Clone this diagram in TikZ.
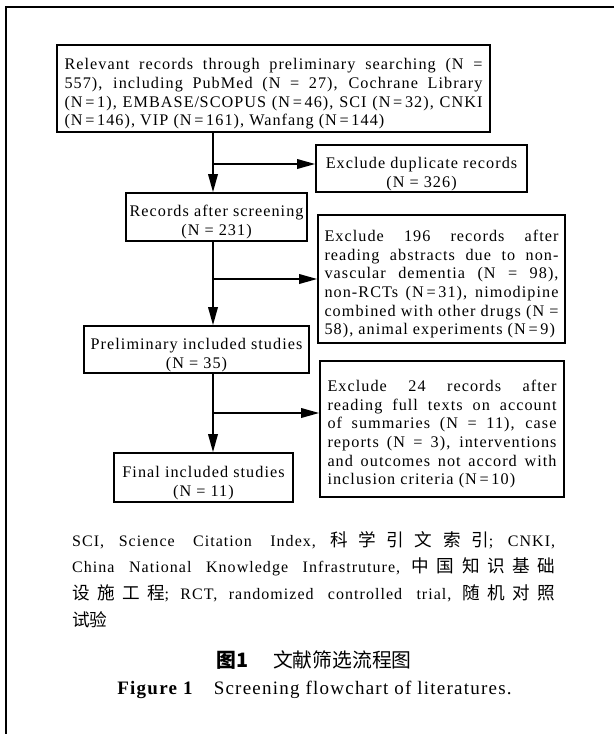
\documentclass[tikz,border=0pt]{standalone}
\usepackage{fontspec}
\setmainfont[LetterSpace=6.5]{Liberation Serif}
\newfontfamily\cjk[Scale=1.1]{Noto Sans CJK SC}
\XeTeXlinebreaklocale "zh"
\XeTeXlinebreakskip=0pt plus 2pt
\usetikzlibrary{arrows.meta}
\newcommand{\topgap}{\rule{0pt}{22pt}}
\newcommand{\pgap}{\hspace{4pt plus 2pt}}

\begin{document}
\begin{tikzpicture}[x=1pt, y=-1pt,
    box/.style={draw, line width=1.6pt, align=center, inner sep=0pt,
        font=\fontsize{16.2}{18.6}\selectfont},
    arr/.style={line width=1.8pt, -{Triangle[length=18pt, width=9.5pt]}}]
    \useasboundingbox (0,0) rectangle (614,734);
    \draw [line width=2.4pt] (614,7) -- (6,7) -- (6,734);

    \coordinate (axis) at (213,0);

    \node [box, minimum width=433pt, minimum height=87pt, text width=418pt, align=justify] (search) at (273.5,88.5)
        {\topgap Relevant records through preliminary searching (N =\linebreak 557), including PubMed (N = 27), Cochrane Library\linebreak (N\,=\,1), EMBASE/SCOPUS (N\,=\,46), SCI (N\,=\,32), CNKI\linebreak (N\,=\,146), VIP (N\,=\,161), Wanfang (N\,=\,144)};
    \node [box, minimum width=211pt, minimum height=47pt] (dup) at (421.5,168.5)
        {\topgap Exclude duplicate records\\(N = 326)};
    \node [box, minimum width=181pt, minimum height=48pt] (screen) at (216.5,217)
        {\topgap Records after screening\\(N = 231)};
    \node [box, minimum width=247pt, minimum height=128pt, text width=234pt, align=justify] (abstr) at (441.5,279)
        {\topgap Exclude 196 records after\linebreak reading abstracts due to non-\linebreak vascular dementia (N = 98),\linebreak non-RCTs (N\,=\,31), nimodipine\linebreak combined with other drugs (N =\linebreak 58), animal experiments (N\,=\,9)};
    \node [box, minimum width=225pt, minimum height=47pt] (prelim) at (196.5,349.5)
        {\topgap Preliminary included studies\\(N = 35)};
    \node [box, minimum width=244pt, minimum height=136pt, text width=229pt, align=justify] (fulltext) at (442,429)
        {\topgap Exclude 24 records after\linebreak reading full texts on account\linebreak of summaries (N = 11), case\linebreak reports (N = 3), interventions\linebreak and outcomes not accord with\linebreak inclusion criteria (N\,=\,10)};
    \node [box, minimum width=179pt, minimum height=49pt] (final) at (203.5,477.5)
        {\topgap Final included studies\\(N = 11)};

    \draw [arr] (search.south -| axis) -- (screen.north -| axis);
    \draw [arr] ([yshift=4.5pt]dup.west -| axis) -- ([yshift=4.5pt]dup.west);
    \draw [arr] (screen.south -| axis) -- (prelim.north -| axis);
    \draw [arr] (abstr.west -| axis) -- (abstr.west);
    \draw [arr] (prelim.south -| axis) -- (final.north -| axis);
    \draw [arr] ([yshift=16pt]fulltext.west -| axis) -- ([yshift=16pt]fulltext.west);

    \node [anchor=north west, inner sep=0pt, text width=483pt, align=justify,
        font=\fontsize{16}{26.7}\selectfont] (note) at (72,531)
        {SCI,\pgap Science Citation Index,\pgap{\cjk 科学引文索引};\pgap CNKI,\linebreak China National Knowledge Infrastruture,\pgap{\cjk 中国知识基础}\linebreak {\cjk 设施工程};\pgap RCT,\pgap randomized controlled trial,\pgap{\cjk 随机对照}\linebreak {\cjk 试验}};
    \node [font=\fontsize{18}{20}\selectfont] (figcn) at (314,660)
        {{\cjk\bfseries 图1}\hspace{25pt}{\cjk 文献筛选流程图}};
    \node [font=\fontsize{19}{21}\selectfont] (figen) at (314.5,690)
        {\textbf{Figure 1}\hspace{20pt}Screening flowchart of literatures.};
\end{tikzpicture}
\end{document}
